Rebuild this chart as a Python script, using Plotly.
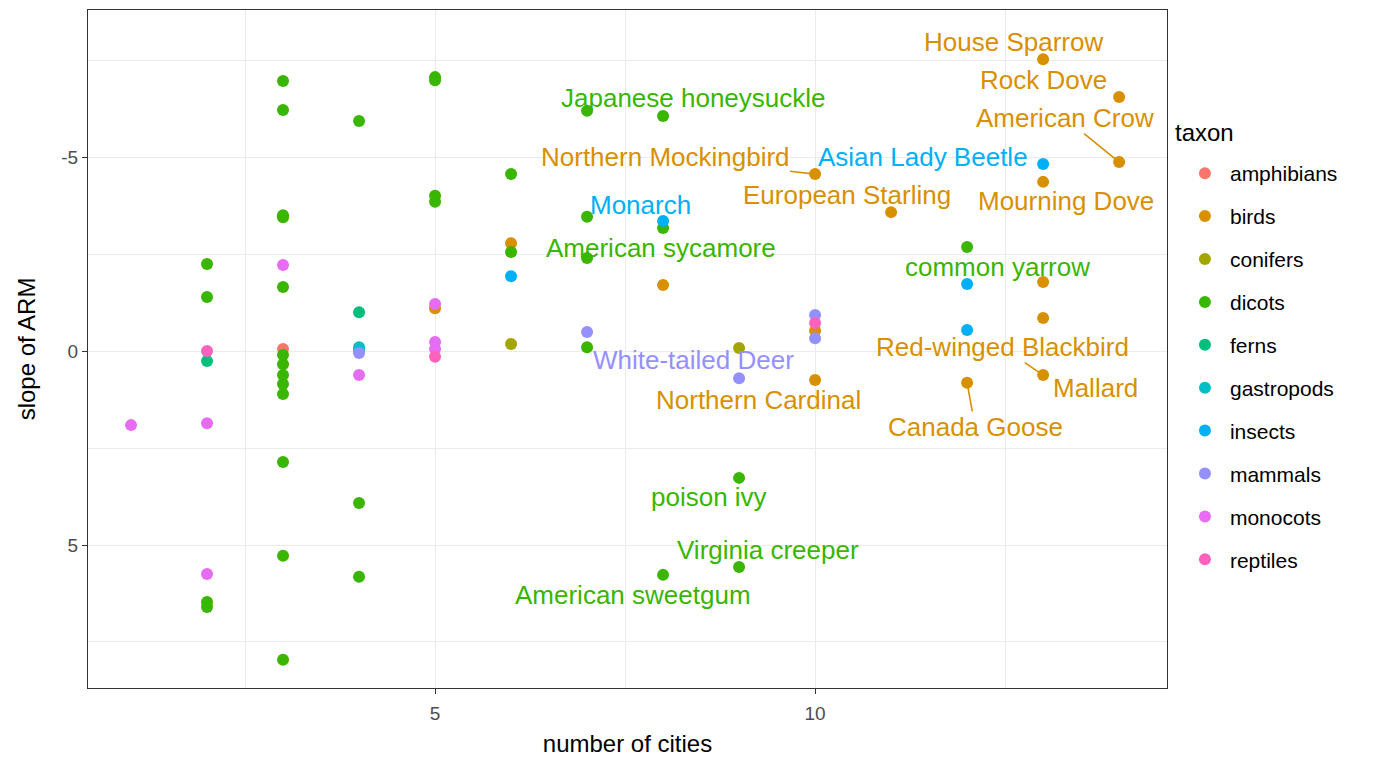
import plotly.graph_objects as go

# ---------------- data ----------------
taxa = ["amphibians", "birds", "conifers", "dicots", "ferns",
        "gastropods", "insects", "mammals", "monocots", "reptiles"]
colors = ["#F8766D", "#D89000", "#A3A500", "#39B600", "#00BF7D",
          "#00BFC4", "#00B0F6", "#9590FF", "#E76BF3", "#FF62BC"]

amphibians_x = [3]
amphibians_y = [-0.05]

birds_x = [5, 6, 8, 10, 10, 10, 11, 12, 13, 13, 13, 13, 13, 14, 14]
birds_y = [-1.1, -2.78, -1.7, -4.56, -0.52, 0.75, -3.58, 0.82,
           -7.52, -4.36, -1.78, -0.85, 0.62, -6.55, -4.87]

conifers_x = [6, 9]
conifers_y = [-0.18, -0.08]

dicots_x = [2, 2, 2, 2,
            3, 3, 3, 3, 3, 3, 3, 3, 3, 3, 3, 3, 3,
            4, 4, 4,
            5, 5, 5, 5,
            6, 6,
            7, 7, 7, 7,
            8, 8, 8,
            9, 9,
            12]
dicots_y = [-2.24, -1.39, 6.47, 6.6,
            -6.96, -6.21, -3.5, -3.45, -1.65, 0.1, 0.34, 0.62, 0.85, 1.11, 2.86, 5.28, 7.96,
            -5.93, 3.92, 5.82,
            -7.06, -6.98, -4.0, -3.85,
            -4.56, -2.55,
            -6.19, -3.46, -2.4, -0.1,
            -6.06, -3.17, 5.77,
            3.27, 5.57,
            -2.68]

ferns_x = [2, 4, 4]
ferns_y = [0.26, -1.0, 0.0]

gastropods_x = [4]
gastropods_y = [-0.1]

insects_x = [6, 8, 12, 12, 13]
insects_y = [-1.93, -3.35, -1.73, -0.54, -4.82]

mammals_x = [4, 7, 9, 10, 10]
mammals_y = [0.05, -0.49, 0.7, -0.93, -0.33]

monocots_x = [1, 2, 2, 3, 4, 5, 5, 5]
monocots_y = [1.91, 1.86, 5.75, -2.22, 0.62, -1.21, -0.23, -0.05]

reptiles_x = [2, 5, 10]
reptiles_y = [0.0, 0.15, -0.72]

series = {
    "amphibians": (amphibians_x, amphibians_y),
    "birds": (birds_x, birds_y),
    "conifers": (conifers_x, conifers_y),
    "dicots": (dicots_x, dicots_y),
    "ferns": (ferns_x, ferns_y),
    "gastropods": (gastropods_x, gastropods_y),
    "insects": (insects_x, insects_y),
    "mammals": (mammals_x, mammals_y),
    "monocots": (monocots_x, monocots_y),
    "reptiles": (reptiles_x, reptiles_y),
}

# labelled species: name, taxon, index of the point within that taxon
label_names = ["House Sparrow", "Rock Dove", "American Crow", "Asian Lady Beetle",
               "Mourning Dove", "Northern Mockingbird", "European Starling",
               "Japanese honeysuckle", "Monarch", "American sycamore", "common yarrow",
               "Red-winged Blackbird", "Mallard", "Canada Goose", "White-tailed Deer",
               "Northern Cardinal", "poison ivy", "Virginia creeper", "American sweetgum"]
label_taxa = ["birds", "birds", "birds", "insects",
              "birds", "birds", "birds",
              "dicots", "insects", "dicots", "dicots",
              "birds", "birds", "birds", "mammals",
              "birds", "dicots", "dicots", "dicots"]
label_idx = [8, 13, 14, 4,
             9, 3, 6,
             26, 1, 28, 35,
             12, 12, 7, 2,
             5, 33, 34, 32]

# label placement (pixel offsets of label centre from the point) and segment flag
label_dx = [-30, -76, -54, -120, 23, -150, -44, 106, -23, 74, 30, -41, 52, 8, -46, -57, -30, 29, -30]
label_dy = [-17, -17, -44, -7, 19, -17, -17, -13, -16, -10, 20, -28, 13, 44, -18, 20, 19, -17, 20]
label_seg = [False, False, True, False, False, True, False, False, False, False, False,
             True, False, True, False, False, False, False, False]

# ---------------- figure ----------------
FONT = "Liberation Sans, Arial, Helvetica, sans-serif"
fig = go.Figure()

for t, c in zip(taxa, colors):
    xs, ys = series[t]
    fig.add_trace(go.Scatter(
        x=xs, y=ys, mode="markers",
        name=t, legendgroup=t,
        marker=dict(color=c, size=12, line=dict(width=0)),
        hoverinfo="x+y+name",
    ))

cmap = dict(zip(taxa, colors))
for name, t, i, dx, dy, seg in zip(label_names, label_taxa, label_idx,
                                   label_dx, label_dy, label_seg):
    xs, ys = series[t]
    c = cmap[t]
    fig.add_annotation(
        x=xs[i], y=ys[i], text=name, showarrow=True,
        ax=dx, ay=dy, axref="pixel", ayref="pixel",
        arrowhead=0, arrowwidth=1.6,
        arrowcolor=c if seg else "rgba(0,0,0,0)",
        standoff=0, startstandoff=0,
        font=dict(family=FONT, size=26, color=c),
        borderpad=0,
    )

# legend title placed as text
fig.add_annotation(
    text="taxon", xref="paper", yref="paper", x=1.006, y=0.819,
    xanchor="left", yanchor="middle", showarrow=False,
    font=dict(family=FONT, size=24, color="black"),
)

grid = "#EBEBEB"
fig.update_layout(
    width=1374, height=749,
    margin=dict(l=80, r=215, t=2, b=69),
    paper_bgcolor="white", plot_bgcolor="white",
    font=dict(family=FONT, color="black"),
    showlegend=True,
    legend=dict(
        font=dict(size=21, color="black"),
        x=1.012, xanchor="left", y=0.789, yanchor="top",
        tracegroupgap=12.6, itemsizing="constant", itemwidth=40,
        bgcolor="rgba(0,0,0,0)",
    ),
    xaxis=dict(
        range=[0.434, 14.63], tickmode="array", tickvals=[5, 10],
        ticktext=["5", "10"],
        showgrid=True, gridcolor=grid, gridwidth=1.2,
        minor=dict(tickmode="array", tickvals=[2.5, 7.5, 12.5],
                   showgrid=True, gridcolor=grid, gridwidth=1, ticklen=0),
        zeroline=False, showline=True, linecolor="#333333", linewidth=1.2, mirror=True,
        ticks="outside", ticklen=5, tickcolor="#333333", tickwidth=1.2,
        ticklabelstandoff=3,
        tickfont=dict(size=19, color="#4D4D4D"),
        title=dict(text="number of cities", font=dict(size=24, color="black"), standoff=14),
    ),
    yaxis=dict(
        range=[8.686, -8.79], tickmode="array", tickvals=[-5, 0, 5],
        ticktext=["-5", "0", "5"],
        showgrid=True, gridcolor=grid, gridwidth=1.2,
        minor=dict(tickmode="array", tickvals=[-7.5, -2.5, 2.5, 7.5],
                   showgrid=True, gridcolor=grid, gridwidth=1, ticklen=0),
        zeroline=False, showline=True, linecolor="#333333", linewidth=1.2, mirror=True,
        ticks="outside", ticklen=5, tickcolor="#333333", tickwidth=1.2,
        tickfont=dict(size=19, color="#4D4D4D"),
        title=dict(text="slope of ARM", font=dict(size=24, color="black"), standoff=18),
    ),
)

fig.write_html("out.html")
